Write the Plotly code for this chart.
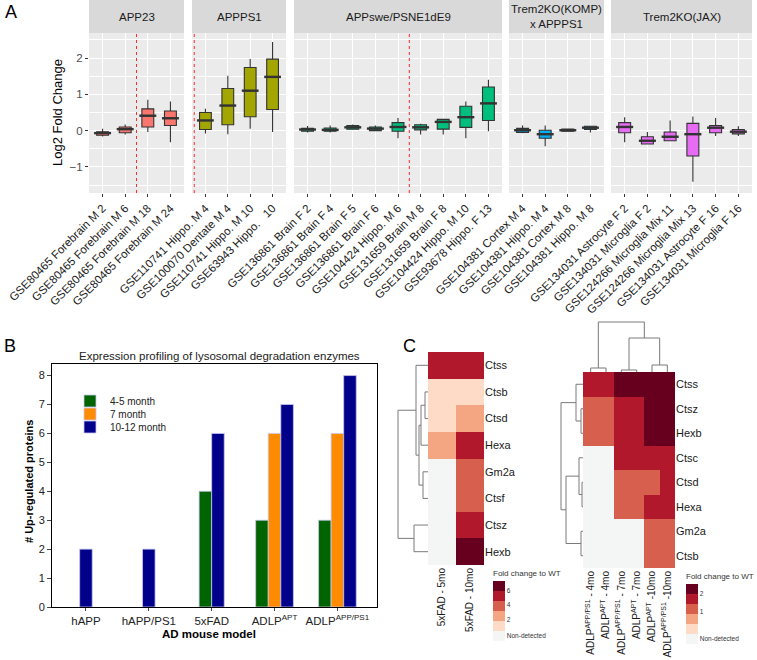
import plotly.graph_objects as go

W, H = 757, 660
def px(x): return x / W
def py(y): return 1 - y / H

FONT = "Liberation Sans, Arial, sans-serif"

# ---------------- Panel A data ----------------
facet_names = ["APP23", "APPPS1", "APPswe/PSNE1dE9", "Trem2KO(KOMP)<br>x APPPS1", "Trem2KO(JAX)"]
facet_colors = ["#F8766D", "#A3A500", "#00BF7D", "#00B0F6", "#E76BF3"]

app23_labels = ["GSE80465 Forebrain M 2", "GSE80465 Forebrain M 6", "GSE80465 Forebrain M 18", "GSE80465 Forebrain M 24"]
app23_q1 = [-0.13, -0.06, 0.10, 0.14]
app23_med = [-0.07, 0.04, 0.41, 0.34]
app23_q3 = [-0.03, 0.10, 0.60, 0.54]
app23_lo = [-0.16, -0.11, -0.04, -0.32]
app23_hi = [0.05, 0.17, 0.85, 0.80]

appps1_labels = ["GSE110741 Hippo. M 4", "GSE100070 Dentate M 4", "GSE110741 Hippo. M 10", "GSE63943 Hippo.\u00a0\u00a0 10"]
appps1_q1 = [0.03, 0.16, 0.38, 0.58]
appps1_med = [0.28, 0.69, 1.10, 1.48]
appps1_q3 = [0.50, 1.16, 1.74, 1.97]
appps1_lo = [-0.08, -0.10, 0.05, -0.04]
appps1_hi = [0.60, 1.51, 1.97, 2.44]

appswe_labels = ["GSE136861 Brain F 2", "GSE136861 Brain F 4", "GSE136861 Brain F 5", "GSE136861 Brain F 6",
                 "GSE104424 Hippo. M 6", "GSE131659 Brain M 8", "GSE131659 Brain F 8", "GSE104424 Hippo. M 10",
                 "GSE93678 Hippo. F 13"]
appswe_q1 = [-0.02, -0.02, 0.04, 0.00, -0.02, 0.02, 0.04, 0.09, 0.28]
appswe_med = [0.03, 0.02, 0.09, 0.055, 0.10, 0.09, 0.24, 0.37, 0.75]
appswe_q3 = [0.06, 0.07, 0.14, 0.10, 0.22, 0.16, 0.31, 0.67, 1.20]
appswe_lo = [-0.05, -0.05, 0.02, -0.02, -0.21, -0.11, -0.11, -0.21, -0.02]
appswe_hi = [0.13, 0.14, 0.17, 0.14, 0.35, 0.19, 0.31, 0.80, 1.40]

komp_labels = ["GSE104381 Cortex M 4", "GSE104381 Hippo. M 4", "GSE104381 Cortex M 8", "GSE104381 Hippo. M 8"]
komp_q1 = [-0.05, -0.21, -0.02, 0.03]
komp_med = [0.01, -0.10, 0.01, 0.08]
komp_q3 = [0.06, 0.01, 0.04, 0.12]
komp_lo = [-0.07, -0.43, -0.03, -0.05]
komp_hi = [0.14, 0.14, 0.05, 0.13]

jax_labels = ["GSE134031 Astrocyte F 2", "GSE134031 Microglia F 2", "GSE124266 Microglia Mix 11",
              "GSE124266 Microglia Mix 13", "GSE134031 Astrocyte F 16", "GSE134031 Microglia F 16"]
jax_q1 = [-0.06, -0.37, -0.28, -0.70, -0.06, -0.09]
jax_med = [0.10, -0.28, -0.17, -0.10, 0.08, -0.03]
jax_q3 = [0.22, -0.17, -0.04, 0.20, 0.14, 0.03]
jax_lo = [-0.32, -0.37, -0.28, -1.41, -0.15, -0.15]
jax_hi = [0.37, -0.04, 0.28, 0.39, 0.35, 0.12]

# position of red dotted separator (between categories), None = no line
facet_separators = [1.5, -0.5, 4.5, None, None]

# ---------------- Panel B data ----------------
models = ["hAPP", "hAPP/PS1", "5xFAD", "ADLP<sup>APT</sup>", "ADLP<sup>APP/PS1</sup>"]
age_groups = ["4-5 month", "7 month", "10-12 month"]
up_4_5 = [None, None, 4, 3, 3]
up_7 = [None, None, None, 6, 6]
up_10_12 = [2, 2, 6, 7, 8]
bar_colors = ["#006400", "#FF8C00", "#00008B"]

# ---------------- Panel C data ----------------
level_colors = ["#F4F5F5", "#FDDBC7", "#F4A582", "#D6604D", "#B2182B", "#67001F"]

left_rows = ["Ctss", "Ctsb", "Ctsd", "Hexa", "Gm2a", "Ctsf", "Ctsz", "Hexb"]
left_cols = ["5xFAD - 5mo", "5xFAD - 10mo"]
left_5mo = [4, 1, 1, 2, 0, 0, 0, 0]
left_10mo = [4, 1, 2, 4, 3, 3, 4, 5]
left_cb_vals = [4.5, 3.1, 1.6, 0]
left_cb_text = ["6", "4", "2", "Non-detected"]
# dendrogram merges (child a, child b, height)
left_row_merges = [(1, 2, 3), (4, 5, 5), (8, 3, 7), (10, 9, 9), (0, 11, 12), (6, 7, 14), (12, 13, 30)]

right_rows = ["Ctss", "Ctsz", "Hexb", "Ctsc", "Ctsd", "Hexa", "Gm2a", "Ctsb"]
right_cols = ["ADLP<sup>APP/PS1</sup> - 4mo", "ADLP<sup>APT</sup> - 4mo", "ADLP<sup>APP/PS1</sup> - 7mo",
              "ADLP<sup>APT</sup> - 7mo", "ADLP<sup>APT</sup> -10mo", "ADLP<sup>APP/PS1</sup> -10mo"]
right_levels = [
    [4, 4, 5, 5, 5, 5],
    [3, 3, 4, 4, 5, 5],
    [3, 3, 4, 4, 5, 5],
    [0, 0, 4, 4, 4, 4],
    [0, 0, 3, 3, 3, 4],
    [0, 0, 3, 3, 4, 4],
    [0, 0, 0, 0, 3, 3],
    [0, 0, 0, 0, 3, 3],
]
right_cb_vals = [4.5, 2.7, 0]
right_cb_text = ["2", "1", "Non-detected"]
right_row_merges = [(4, 5, 1), (1, 2, 2), (6, 7, 2), (3, 8, 4), (0, 9, 7), (11, 10, 17), (12, 13, 22)]
right_col_merges = [(2, 3, 2), (0, 1, 4), (4, 5, 7), (6, 8, 34), (7, 9, 50)]

fig = go.Figure()
shapes = []
annotations = []

def note(x, y, text, size, color="black", angle=0):
    return dict(xref="paper", yref="paper", x=px(x), y=py(y), text=text, showarrow=False,
                xanchor="center", yanchor="middle", textangle=angle, font=dict(size=size, color=color))

# ---------------- Panel A ----------------
facets = [
    (app23_labels, app23_q1, app23_med, app23_q3, app23_lo, app23_hi),
    (appps1_labels, appps1_q1, appps1_med, appps1_q3, appps1_lo, appps1_hi),
    (appswe_labels, appswe_q1, appswe_med, appswe_q3, appswe_lo, appswe_hi),
    (komp_labels, komp_q1, komp_med, komp_q3, komp_lo, komp_hi),
    (jax_labels, jax_q1, jax_med, jax_q3, jax_lo, jax_hi),
]
facet_px = [(89, 184), (192, 286), (294, 502), (509, 604), (611, 752)]
A_top, A_bot = 33, 193
BOX_GAP = 0.25
layout_axes = {}
for k, (f, (x0, x1)) in enumerate(zip(facets, facet_px), start=1):
    labels, q1, med, q3, lo, hi = f
    xa = "x" if k == 1 else f"x{k}"
    fig.add_trace(go.Box(
        x=labels, q1=q1, median=med, q3=q3, lowerfence=lo, upperfence=hi,
        xaxis=xa, yaxis="y", fillcolor=facet_colors[k - 1],
        line=dict(color="#333333", width=1.1), whiskerwidth=0, boxpoints=False,
        showlegend=False, hoverinfo="skip"))
    # thick median bars (ggplot style), drawn at the median values on the axis scales
    half = (1 - BOX_GAP) / 2
    for i, m in enumerate(med):
        shapes.append(dict(type="line", xref=xa, yref="y", x0=i - half, x1=i + half, y0=m, y1=m,
                           line=dict(color="#333333", width=2.4), layer="above"))
    n = len(labels)
    layout_axes["xaxis" if k == 1 else f"xaxis{k}"] = dict(
        domain=[px(x0), px(x1)], anchor="y", type="category", range=[-0.6, n - 0.4],
        tickangle=-45, tickfont=dict(size=11.5, color="#1a1a1a"), ticks="outside", ticklen=3,
        tickcolor="#333333", showgrid=True, gridcolor="white", gridwidth=1.1, zeroline=False,
        showline=False, fixedrange=True, automargin=False, ticklabeloverflow="allow")
    dref = "x domain" if k == 1 else f"x{k} domain"
    shapes.append(dict(type="rect", xref=dref, yref="y domain", x0=0, x1=1, y0=0, y1=1,
                       fillcolor="#EBEBEB", line=dict(width=0), layer="below"))
    shapes.append(dict(type="rect", xref=dref, yref="paper", x0=0, x1=1, y0=py(A_top), y1=py(0),
                       fillcolor="#D9D9D9", line=dict(width=0), layer="below"))
    annotations.append(dict(xref=dref, yref="paper", x=0.5, y=py(A_top / 2), text=facet_names[k - 1],
                            showarrow=False, font=dict(size=11.5, color="#1a1a1a"), xanchor="center",
                            yanchor="middle"))
    sep = facet_separators[k - 1]
    if sep is not None:
        shapes.append(dict(type="line", xref=xa, yref="y domain", x0=sep, x1=sep, y0=0, y1=1,
                           line=dict(color="#FF2A2A", width=1, dash="dot"), layer="above"))

layout_axes["yaxis"] = dict(
    domain=[py(A_bot), py(A_top)], anchor="x", range=[-1.72, 2.69], tickmode="linear", tick0=0, dtick=1,
    ticks="outside", ticklen=3, tickcolor="#333333", tickfont=dict(size=11.5, color="#4d4d4d"),
    showgrid=True, gridcolor="white", gridwidth=1.1, zeroline=False, automargin=False,
    ticklabeloverflow="allow",
    minor=dict(tickmode="linear", tick0=0.5, dtick=1, showgrid=True, gridcolor="white", gridwidth=0.5, ticks=""))
annotations.append(note(58, (A_top + A_bot) / 2, "Log2 Fold Change", 13, angle=-90))

# ---------------- Panel B ----------------
series = [up_4_5, up_7, up_10_12]
bar_w = 0.2
bx = [[], [], []]
by = [[], [], []]
for ci in range(len(models)):
    present = [s for s in range(3) if series[s][ci] is not None]
    npres = len(present)
    for slot, s in enumerate(present):
        bx[s].append(ci + (slot - (npres - 1) / 2) * bar_w)
        by[s].append(series[s][ci])
legend_names = ["legend", "legend2", "legend3"]
for s in range(3):
    fig.add_trace(go.Bar(x=bx[s], y=by[s], width=bar_w, name=age_groups[s], xaxis="x6", yaxis="y6",
                         legend=legend_names[s],
                         marker=dict(color=bar_colors[s], line=dict(color="#C8C8F0", width=0.8)),
                         hoverinfo="skip"))
B_l, B_r, B_t, B_b = 52, 377, 364, 607
layout_axes["xaxis6"] = dict(domain=[px(B_l), px(B_r)], anchor="y6", range=[-0.54, 4.63],
                             tickmode="array", tickvals=list(range(len(models))), ticktext=models,
                             ticks="outside", ticklen=3, showline=True, mirror=True, linecolor="black",
                             linewidth=1, showgrid=False, zeroline=False, tickangle=0, automargin=False,
                             ticklabeloverflow="allow", tickfont=dict(size=11.5, color="#222222"))
layout_axes["yaxis6"] = dict(domain=[py(B_b), py(B_t)], anchor="x6", range=[0, 8.4], tickmode="linear",
                             tick0=0, dtick=1, ticks="outside", ticklen=4, showline=True, mirror=True,
                             linecolor="black", linewidth=1, showgrid=False, zeroline=False, automargin=False,
                             ticklabeloverflow="allow", tickfont=dict(size=11, color="#222222"))
annotations += [
    note(219, 356, "Expression profiling of lysosomal degradation enzymes", 11.5, "#222222"),
    note(29, 482, "<b># Up-regulated proteins</b>", 11, angle=-90),
    note(209, 634, "<b>AD mouse model</b>", 11.5),
]

# ---------------- Panel C ----------------
def stepped(colors):
    n = len(colors)
    cs = []
    for i, c in enumerate(colors):
        cs.append([i / n, c])
        cs.append([(i + 1) / n, c])
    return cs

cscale = stepped(level_colors)
left_z = [[a, b] for a, b in zip(left_5mo, left_10mo)]

def cbar(xp, ytop, vals, texts):
    return dict(x=px(xp), xanchor="left", y=py(ytop), yanchor="top", len=74, lenmode="pixels",
                thickness=12, thicknessmode="pixels", outlinewidth=0, tickmode="array", tickvals=vals,
                ticktext=texts, ticks="", tickfont=dict(size=6.5, color="#333333"), xpad=0, ypad=0,
                title=dict(text="Fold change to WT", side="top", font=dict(size=8, color="#333333")))

fig.add_trace(go.Heatmap(z=left_z, xaxis="x7", yaxis="y7", colorscale=cscale, zmin=-0.5, zmax=5.5,
                         colorbar=cbar(493, 567, left_cb_vals, left_cb_text), hoverinfo="skip"))
fig.add_trace(go.Heatmap(z=right_levels, xaxis="x8", yaxis="y8", colorscale=cscale, zmin=-0.5, zmax=5.5,
                         colorbar=cbar(686, 570, right_cb_vals, right_cb_text), hoverinfo="skip"))

LH = (428, 484, 352, 565)
RH = (583, 675, 372, 568)
common_hm = dict(showgrid=False, zeroline=False, ticks="", showline=False, fixedrange=True, automargin=False,
                 ticklabeloverflow="allow")
layout_axes["xaxis7"] = dict(domain=[px(LH[0]), px(LH[1])], anchor="y7", range=[-0.5, 1.5], tickmode="array",
                             tickvals=[0, 1], ticktext=left_cols, tickangle=-90,
                             tickfont=dict(size=10, color="#1a1a1a"), **common_hm)
layout_axes["yaxis7"] = dict(domain=[py(LH[3]), py(LH[2])], anchor="x7", side="right", range=[7.5, -0.5],
                             tickmode="array", tickvals=list(range(8)), ticktext=left_rows,
                             tickfont=dict(size=11, color="#1a1a1a"), **common_hm)
layout_axes["xaxis8"] = dict(domain=[px(RH[0]), px(RH[1])], anchor="y8", range=[-0.5, 5.5], tickmode="array",
                             tickvals=list(range(6)), ticktext=right_cols, tickangle=-90,
                             tickfont=dict(size=10, color="#1a1a1a"), **common_hm)
layout_axes["yaxis8"] = dict(domain=[py(RH[3]), py(RH[2])], anchor="x8", side="right", range=[7.5, -0.5],
                             tickmode="array", tickvals=list(range(8)), ticktext=right_rows,
                             tickfont=dict(size=11, color="#1a1a1a"), **common_hm)

def dendro(n, merges):
    pos = list(range(n))
    hts = [0] * n
    p_out, h_out = [], []
    for a, b, h in merges:
        pa, pb, ha, hb = pos[a], pos[b], hts[a], hts[b]
        p_out += [pa, pa, pb, pb, None]
        h_out += [ha, h, h, hb, None]
        pos.append((pa + pb) / 2)
        hts.append(h)
    return p_out, h_out

dline = dict(color="#7a7a7a", width=1)
p, h = dendro(8, left_row_merges)
fig.add_trace(go.Scatter(x=h, y=p, mode="lines", line=dline, xaxis="x9", yaxis="y9", showlegend=False,
                         hoverinfo="skip"))
p, h = dendro(8, right_row_merges)
fig.add_trace(go.Scatter(x=h, y=p, mode="lines", line=dline, xaxis="x10", yaxis="y10", showlegend=False,
                         hoverinfo="skip"))
p, h = dendro(6, right_col_merges)
fig.add_trace(go.Scatter(x=p, y=h, mode="lines", line=dline, xaxis="x11", yaxis="y11", showlegend=False,
                         hoverinfo="skip"))
hidden = dict(visible=False, fixedrange=True, automargin=False)
layout_axes["xaxis9"] = dict(domain=[px(397), px(LH[0])], anchor="y9", range=[31, 0], **hidden)
layout_axes["yaxis9"] = dict(domain=[py(LH[3]), py(LH[2])], anchor="x9", range=[7.5, -0.5], **hidden)
layout_axes["xaxis10"] = dict(domain=[px(555), px(RH[0])], anchor="y10", range=[28, 0], **hidden)
layout_axes["yaxis10"] = dict(domain=[py(RH[3]), py(RH[2])], anchor="x10", range=[7.5, -0.5], **hidden)
layout_axes["xaxis11"] = dict(domain=[px(RH[0]), px(RH[1])], anchor="y11", range=[-0.5, 5.5], **hidden)
layout_axes["yaxis11"] = dict(domain=[py(RH[2]), py(320)], anchor="x11", range=[0, 52], **hidden)

# panel letters
for t, xx, yy in [("A", 11, 12), ("B", 10, 346), ("C", 410, 346)]:
    annotations.append(note(xx, yy, t, 18))

leg_common = dict(x=px(70), xanchor="left", yanchor="middle", bgcolor="rgba(0,0,0,0)",
                  font=dict(size=10, color="#222222"), borderwidth=0)
fig.update_layout(
    template="none",
    width=W, height=H, margin=dict(l=0, r=0, t=0, b=0, autoexpand=False), paper_bgcolor="white",
    plot_bgcolor="rgba(0,0,0,0)", font=dict(family=FONT, color="black"),
    barmode="overlay", boxgap=BOX_GAP, shapes=shapes, annotations=annotations,
    legend=dict(y=py(401), **leg_common),
    legend2=dict(y=py(414), **leg_common),
    legend3=dict(y=py(427), **leg_common),
    **layout_axes)

fig.write_html("out.html", config={"displayModeBar": False},
               post_script="document.body.style.margin='0';document.body.style.padding='0';")
